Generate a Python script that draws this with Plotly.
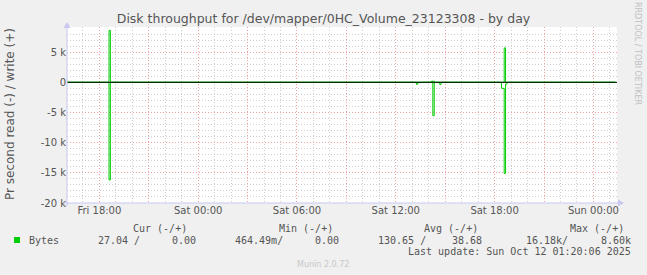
import plotly.graph_objects as go

# ---------------- data ----------------
read_times = ["2025-10-10 16:02", "2025-10-10 18:30", "2025-10-10 18:35", "2025-10-10 18:40",
              "2025-10-11 13:10", "2025-10-11 13:15", "2025-10-11 13:20",
              "2025-10-11 14:10", "2025-10-11 14:15", "2025-10-11 14:20",
              "2025-10-11 14:35", "2025-10-11 14:40", "2025-10-11 14:45",
              "2025-10-11 18:20", "2025-10-11 18:25", "2025-10-11 18:30",
              "2025-10-11 18:35", "2025-10-11 18:40", "2025-10-11 18:45",
              "2025-10-12 01:20"]
read_bytes = [0, 0, 16180, 0,
              0, 330, 0,
              0, 5550, 0,
              0, 350, 0,
              0, 1000, 1000,
              15100, 300, 0,
              27]

write_times = ["2025-10-10 16:02", "2025-10-10 18:30", "2025-10-10 18:35", "2025-10-10 18:40",
               "2025-10-11 14:05", "2025-10-11 14:10", "2025-10-11 14:20",
               "2025-10-11 18:30", "2025-10-11 18:35", "2025-10-11 18:40",
               "2025-10-12 01:20"]
write_bytes = [0, 0, 8600, 0,
               0, 180, 0,
               0, 5700, 0,
               0]

x_range = ["2025-10-10 16:02", "2025-10-12 01:26"]
y_range = [-20000, 9160]

x_tickvals = ["2025-10-10 18:00", "2025-10-10 21:00", "2025-10-11 00:00", "2025-10-11 03:00",
              "2025-10-11 06:00", "2025-10-11 09:00", "2025-10-11 12:00", "2025-10-11 15:00",
              "2025-10-11 18:00", "2025-10-11 21:00", "2025-10-12 00:00"]
x_ticktext = ["Fri 18:00", "", "Sat 00:00", "", "Sat 06:00", "", "Sat 12:00", "",
              "Sat 18:00", "", "Sun 00:00"]
y_tickvals = [5000, 0, -5000, -10000, -15000, -20000]
y_ticktext = ["5 k", "0", "-5 k", "-10 k", "-15 k", "-20 k"]

legend_header = ["Cur (-/+)", "Min (-/+)", "Avg (-/+)", "Max (-/+)"]
legend_values = ["27.04 /", "0.00", "464.49m/", "0.00", "130.65 /", "38.68", "16.18k/", "8.60k"]
series_name = "Bytes"
title = "Disk throughput for /dev/mapper/0HC_Volume_23123308 - by day"
last_update = "Last update: Sun Oct 12 01:20:06 2025"

# ---------------- layout helpers ----------------
W, H = 647, 275
ML, MR, MT, MB = 67, 30, 27, 72
PW, PH = W - ML - MR, H - MT - MB


def px(x):
    return (x - ML) / PW


def py(y):
    return (H - MB - y) / PH


GREEN = "#00cc00"
TXT = "#555555"

fig = go.Figure()
fig.add_trace(go.Scatter(x=read_times, y=[-v for v in read_bytes], mode="lines",
                         line=dict(color=GREEN, width=1, shape="hv"), showlegend=False,
                         hoverinfo="skip"))
fig.add_trace(go.Scatter(x=write_times, y=write_bytes, mode="lines",
                         line=dict(color=GREEN, width=1, shape="hv"), showlegend=False,
                         hoverinfo="skip"))

shapes = [
    # zero line
    dict(type="line", xref="paper", yref="y", x0=0, x1=1, y0=0, y1=0,
         line=dict(color="black", width=1), layer="above"),
    # axis lines
    dict(type="line", xref="paper", yref="paper", x0=px(63), x1=px(619), y0=0, y1=0,
         line=dict(color="#c8c8f0", width=1), layer="above"),
    dict(type="line", xref="paper", yref="paper", x0=0, x1=0, y0=py(206), y1=py(26),
         line=dict(color="#c8c8f0", width=1), layer="above"),
    # arrowheads
    dict(type="path", xref="paper", yref="paper", xsizemode="pixel", ysizemode="pixel",
         xanchor=px(618), yanchor=0, path="M 0,-3.5 L 6,0 L 0,3.5 Z",
         fillcolor="#c8c8f0", line=dict(width=0), layer="above"),
    dict(type="path", xref="paper", yref="paper", xsizemode="pixel", ysizemode="pixel",
         xanchor=0, yanchor=py(28), path="M -3.5,0 L 0,6 L 3.5,0 Z",
         fillcolor="#c8c8f0", line=dict(width=0), layer="above"),
    # legend swatch
    dict(type="rect", xref="paper", yref="paper", x0=px(14), x1=px(20), y0=py(243), y1=py(237),
         fillcolor=GREEN, line=dict(width=0)),
]

ann = []
MONO = dict(family="DejaVu Sans Mono", size=10, color=TXT)


def add_text(text, x, y, xanchor="left", font=None, angle=0):
    ann.append(dict(text=text, x=px(x), y=py(y), xref="paper", yref="paper",
                    xanchor=xanchor, yanchor="middle", showarrow=False,
                    font=font or MONO, textangle=angle))


# y axis title
add_text("Pr second read (-) / write (+)", 10, 114, "center",
         dict(family="DejaVu Sans", size=12, color=TXT), -90)
# legend header
for t, xr in zip(legend_header, [189, 335, 480, 626]):
    add_text(t, xr, 228, "right")
add_text(series_name, 27, 240, "left")
for t, xr in zip(legend_values, [142, 198, 285, 341, 428, 484, 570, 633]):
    add_text(t, xr, 240, "right")
add_text(last_update, 633, 251.5, "right")
add_text("Munin 2.0.72", 323, 264, "center",
         dict(family="DejaVu Sans", size=8, color="#c8c8c8"))
add_text("RRDTOOL / TOBI OETIKER", 638, 53, "center",
         dict(family="DejaVu Sans", size=8, color="#c0c0c0"), 90)

fig.update_layout(
    width=W, height=H,
    margin=dict(l=ML, r=MR, t=MT, b=MB),
    paper_bgcolor="#f0f0f0", plot_bgcolor="white",
    title=dict(text=title, x=0.5, xref="container", xanchor="center", y=1 - 19 / H,
               yref="container", yanchor="middle",
               font=dict(family="DejaVu Sans", size=12.5, color=TXT)),
    shapes=shapes, annotations=ann,
    showlegend=False,
    xaxis=dict(type="date", range=x_range, tickmode="array", tickvals=x_tickvals,
               ticktext=x_ticktext, showgrid=True, gridcolor="#f0a0a0", griddash="1px,2px",
               gridwidth=1, zeroline=False, showline=False, ticks="",
               tickfont=dict(family="DejaVu Sans", size=10, color=TXT),
               minor=dict(dtick=3600000, tick0="2025-10-10 18:00", showgrid=True,
                          gridcolor="#cfcfcf", griddash="1px,2px", gridwidth=1)),
    yaxis=dict(range=y_range, tickmode="array", tickvals=y_tickvals, ticktext=y_ticktext,
               showgrid=True, gridcolor="#f0a0a0", griddash="1px,2px", gridwidth=1,
               zeroline=False, showline=False, ticks="",
               tickfont=dict(family="DejaVu Sans", size=10, color=TXT),
               minor=dict(dtick=1000, tick0=0, showgrid=True,
                          gridcolor="#cfcfcf", griddash="1px,2px", gridwidth=1)),
)

fig.write_html("out.html")
